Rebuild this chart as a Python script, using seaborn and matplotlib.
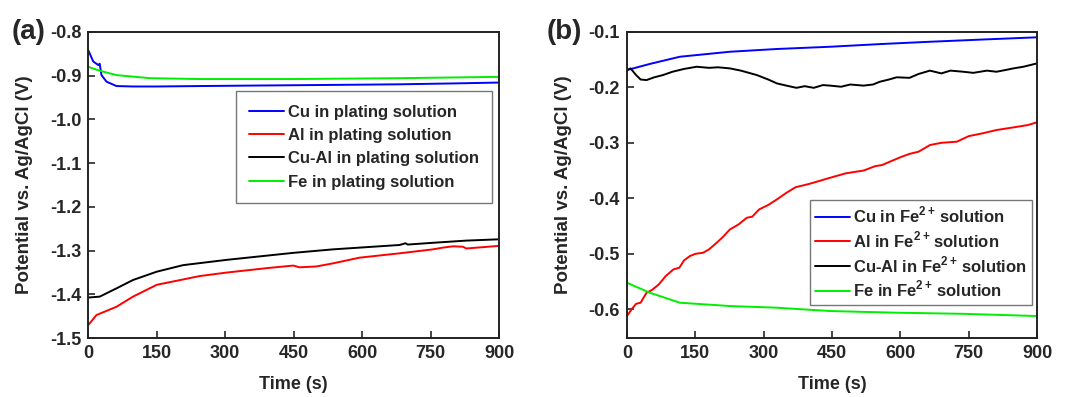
import numpy as np
import pandas as pd
import matplotlib
matplotlib.use("Agg")
import matplotlib.pyplot as plt
import seaborn as sns

# ---------------- data: panel (a), plating solution ----------------
a_cu_t = [0, 11, 22, 25, 29, 40, 62, 98, 150, 244, 350, 463, 580, 682, 800, 900]
a_cu_v = [-0.842, -0.868, -0.876, -0.873, -0.899, -0.914, -0.924, -0.925, -0.925,
          -0.924, -0.923, -0.922, -0.921, -0.920, -0.918, -0.916]
a_al_t = [0, 18, 62, 98, 150, 244, 303, 390, 449, 463, 500, 536, 594, 682, 755, 777,
          799, 821, 828, 900]
a_al_v = [-1.470, -1.447, -1.428, -1.405, -1.378, -1.358, -1.350, -1.340, -1.334,
          -1.338, -1.336, -1.329, -1.316, -1.306, -1.297, -1.293, -1.290, -1.291,
          -1.295, -1.289]
a_cual_t = [0, 25, 62, 98, 150, 208, 303, 449, 536, 609, 682, 695, 700, 755, 828, 900]
a_cual_v = [-1.407, -1.405, -1.386, -1.367, -1.348, -1.333, -1.321, -1.305, -1.297,
            -1.292, -1.287, -1.283, -1.286, -1.282, -1.277, -1.274]
a_fe_t = [0, 25, 62, 135, 244, 450, 682, 900]
a_fe_v = [-0.880, -0.889, -0.899, -0.906, -0.908, -0.908, -0.906, -0.903]

# ---------------- data: panel (b), Fe2+ solution ----------------
b_cu_t = [0, 50, 116, 226, 330, 446, 560, 665, 780, 900]
b_cu_v = [-0.169, -0.158, -0.145, -0.136, -0.131, -0.127, -0.122, -0.118, -0.114, -0.110]
b_al_t = [0, 10, 20, 30, 43, 55, 70, 85, 102, 115, 125, 138, 150, 167, 180, 197, 210,
          226, 245, 263, 275, 290, 310, 329, 350, 370, 400, 425, 450, 480, 519, 545,
          560, 600, 620, 640, 665, 690, 724, 750, 780, 811, 850, 880, 900]
b_al_v = [-0.612, -0.600, -0.590, -0.588, -0.570, -0.565, -0.555, -0.540, -0.528,
          -0.525, -0.512, -0.504, -0.500, -0.498, -0.492, -0.480, -0.470, -0.456,
          -0.447, -0.435, -0.433, -0.420, -0.412, -0.402, -0.390, -0.380, -0.374,
          -0.368, -0.362, -0.355, -0.350, -0.342, -0.340, -0.326, -0.320, -0.316,
          -0.304, -0.300, -0.298, -0.288, -0.283, -0.277, -0.272, -0.268, -0.263]
b_cual_t = [0, 8, 20, 30, 43, 60, 79, 100, 125, 153, 180, 200, 226, 250, 285, 310, 329,
            350, 372, 390, 410, 430, 446, 470, 490, 519, 540, 555, 575, 592, 620, 640,
            665, 690, 710, 738, 760, 790, 811, 830, 848, 870, 900]
b_cual_v = [-0.169, -0.166, -0.178, -0.186, -0.187, -0.182, -0.178, -0.172, -0.167,
            -0.163, -0.165, -0.164, -0.166, -0.170, -0.178, -0.186, -0.193, -0.197,
            -0.201, -0.198, -0.201, -0.196, -0.197, -0.199, -0.195, -0.197, -0.195,
            -0.190, -0.186, -0.182, -0.183, -0.176, -0.170, -0.175, -0.170, -0.172,
            -0.174, -0.170, -0.172, -0.169, -0.166, -0.163, -0.157]
b_fe_t = [0, 50, 116, 226, 329, 446, 592, 738, 900]
b_fe_v = [-0.552, -0.570, -0.588, -0.594, -0.597, -0.603, -0.606, -0.608, -0.612]

labels_a = ["Cu in plating solution", "Al in plating solution",
            "Cu-Al in plating solution", "Fe in plating solution"]
labels_b = [r"Cu in Fe$^{\mathbf{2+}}\!$ solution", r"Al in Fe$^{\mathbf{2+}}\!$ solution",
            r"Cu-Al in Fe$^{\mathbf{2+}}\!$ solution", r"Fe in Fe$^{\mathbf{2+}}\!$ solution"]
colors = ["#0000ff", "#ff0000", "#000000", "#00ee00"]

xticks = [0, 150, 300, 450, 600, 750, 900]


def long_frame(series, labels):
    frames = []
    for (t, v), lab in zip(series, labels):
        frames.append(pd.DataFrame({"t": t, "v": v, "s": lab}))
    return pd.concat(frames, ignore_index=True)


df_a = long_frame([(a_cu_t, a_cu_v), (a_al_t, a_al_v), (a_cual_t, a_cual_v),
                   (a_fe_t, a_fe_v)], labels_a)
df_b = long_frame([(b_cu_t, b_cu_v), (b_al_t, b_al_v), (b_cual_t, b_cual_v),
                   (b_fe_t, b_fe_v)], labels_b)

sns.set_style("ticks")
plt.rcParams["font.family"] = ["Liberation Sans", "DejaVu Sans"]
plt.rcParams["font.weight"] = "bold"
plt.rcParams["mathtext.fontset"] = "custom"
plt.rcParams["mathtext.rm"] = "Liberation Sans:bold"
plt.rcParams["mathtext.bf"] = "Liberation Sans:bold"

fig = plt.figure(figsize=(10.71, 3.97), dpi=100)
ax_a = fig.add_axes([0.0824, 0.148, 0.3836, 0.772])
ax_b = fig.add_axes([0.5854, 0.148, 0.3829, 0.772])

for ax, df, labels, ylim, yticks, letter in [
        (ax_a, df_a, labels_a, (-1.5, -0.8), [-1.5, -1.4, -1.3, -1.2, -1.1, -1.0, -0.9, -0.8], "(a)"),
        (ax_b, df_b, labels_b, (-0.652, -0.1), [-0.6, -0.5, -0.4, -0.3, -0.2, -0.1], "(b)")]:
    sns.lineplot(data=df, x="t", y="v", hue="s", hue_order=labels,
                 palette=colors, linewidth=1.4, sort=False, estimator=None, ax=ax)
    ax.set_xlim(0, 900)
    ax.set_ylim(*ylim)
    ax.set_xticks(xticks)
    ax.set_yticks(yticks)
    ax.set_yticklabels([f"{y:.1f}" for y in yticks])
    ax.tick_params(direction="in", length=5, width=1.2, labelsize=13,
                   top=False, right=False, pad=5)
    for lab in ax.get_xticklabels() + ax.get_yticklabels():
        lab.set_fontweight("bold")
    for sp in ax.spines.values():
        sp.set_visible(True)
        sp.set_linewidth(1.4)
        sp.set_color("#222222")
    ax.set_xlabel("Time (s)", fontsize=13, fontweight="bold", labelpad=10)
    ax.set_ylabel("Potential vs. Ag/AgCl (V)", fontsize=13.5, fontweight="bold",
                  labelpad=12)
    ax.text(-0.186 if letter == "(a)" else -0.195, 1.0, letter, transform=ax.transAxes,
            fontsize=20, fontweight="bold", va="center", ha="left")

leg_a = ax_a.legend(loc="upper right", bbox_to_anchor=(0.983, 0.806), fontsize=12,
                    frameon=True, fancybox=False, edgecolor="#555555",
                    handlelength=2.1, handletextpad=0.2, borderpad=0.8,
                    labelspacing=0.5, borderaxespad=0)
leg_b = ax_b.legend(loc="lower right", bbox_to_anchor=(0.988, 0.109), fontsize=12,
                    frameon=True, fancybox=False, edgecolor="#555555",
                    handlelength=2.1, handletextpad=0.2, borderpad=0.3,
                    labelspacing=0.25, borderaxespad=0)
for leg in (leg_a, leg_b):
    leg.get_frame().set_linewidth(1.0)
    for txt in leg.get_texts():
        txt.set_fontweight("bold")

fig.savefig("out.png", dpi=100)
